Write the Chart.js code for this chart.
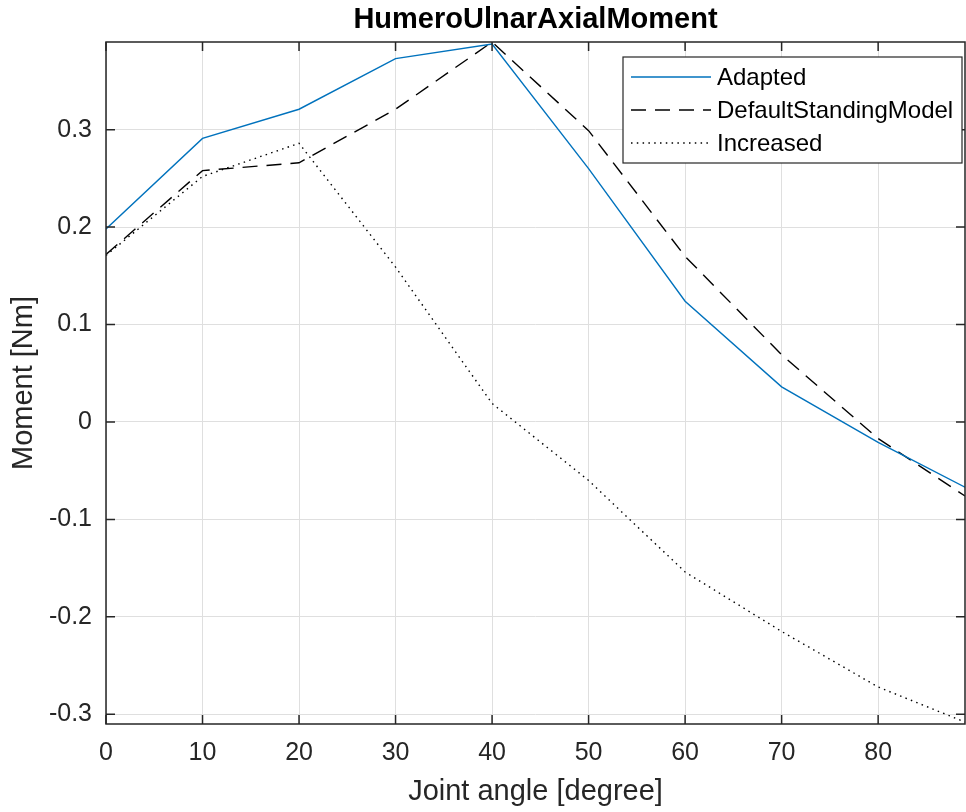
<!DOCTYPE html>
<html>
<head>
<meta charset="utf-8">
<script src="https://cdn.jsdelivr.net/npm/chart.js@4"></script>
<style>
  html, body { margin: 0; padding: 0; background: #fff; }
  #wrap { width: 966px; height: 812px; }
</style>
</head>
<body>
<div id="wrap"><canvas id="momentChart"></canvas></div>
<script>
// joint angles (degree)
var angles = [0, 10, 20, 30, 40, 50, 60, 70, 80, 89];
var adapted = [0.198, 0.291, 0.321, 0.373, 0.388, 0.26, 0.124, 0.036, -0.021, -0.067];
var defaultStanding = [0.172, 0.258, 0.266, 0.321, 0.39, 0.299, 0.17, 0.069, -0.017, -0.076];
var increased = [0.171, 0.252, 0.286, 0.159, 0.019, -0.06, -0.154, -0.215, -0.272, -0.308];

var xTicks = [0, 10, 20, 30, 40, 50, 60, 70, 80];
var yTicks = [-0.3, -0.2, -0.1, 0, 0.1, 0.2, 0.3];

var FONT = '"Liberation Sans", Arial, Helvetica, sans-serif';
var AXIS_COLOR = "#262626";

function toPoints(ys) {
  return angles.map(function (a, i) { return { x: a, y: ys[i] }; });
}

// axes box with inward tick marks, title and legend, MATLAB style
var matlabBox = {
  id: "matlabBox",
  afterDatasetsDraw: function (chart) {
    var ctx = chart.ctx;
    var a = chart.chartArea;
    var xs = chart.scales.x, ys = chart.scales.y;
    var tl = 9;
    ctx.save();
    ctx.strokeStyle = AXIS_COLOR;
    ctx.lineWidth = 1.5;
    ctx.beginPath();
    xTicks.forEach(function (v) {
      var px = xs.getPixelForValue(v);
      ctx.moveTo(px, a.bottom); ctx.lineTo(px, a.bottom - tl);
      ctx.moveTo(px, a.top); ctx.lineTo(px, a.top + tl);
    });
    yTicks.forEach(function (v) {
      var py = ys.getPixelForValue(v);
      ctx.moveTo(a.left, py); ctx.lineTo(a.left + tl, py);
      ctx.moveTo(a.right, py); ctx.lineTo(a.right - tl, py);
    });
    ctx.stroke();
    ctx.strokeRect(a.left, a.top, a.right - a.left, a.bottom - a.top);
    ctx.restore();
  },
  afterDraw: function (chart) {
    var ctx = chart.ctx;
    var a = chart.chartArea;
    ctx.save();
    // title
    ctx.fillStyle = "#000";
    ctx.font = "bold 29px " + FONT;
    ctx.textAlign = "center";
    ctx.textBaseline = "middle";
    ctx.fillText("HumeroUlnarAxialMoment", (a.left + a.right) / 2, 20);

    // legend
    var w = 339, h = 106;
    var left = a.right - 3 - w, top = a.top + 15;
    ctx.fillStyle = "#fff";
    ctx.fillRect(left, top, w, h);
    ctx.strokeStyle = AXIS_COLOR;
    ctx.lineWidth = 1.2;
    ctx.strokeRect(left, top, w, h);
    ctx.font = "24px " + FONT;
    ctx.textAlign = "left";
    chart.data.datasets.forEach(function (ds, i) {
      var y = top + 20 + i * 33;
      ctx.strokeStyle = ds.borderColor;
      ctx.lineWidth = ds.borderWidth;
      ctx.setLineDash(ds.borderDash || []);
      ctx.beginPath();
      ctx.moveTo(left + 8, y);
      ctx.lineTo(left + 88, y);
      ctx.stroke();
      ctx.setLineDash([]);
      ctx.fillStyle = "#000";
      ctx.fillText(ds.label, left + 94, y + 1);
    });
    ctx.restore();
  }
};

var ctx = document.getElementById("momentChart").getContext("2d");
var chart = new Chart(ctx, {
  type: "line",
  data: {
    datasets: [
      {
        label: "Adapted",
        data: toPoints(adapted),
        borderColor: "#0072BD",
        borderWidth: 1.4,
        pointRadius: 0,
        fill: false,
        tension: 0,
      },
      {
        label: "DefaultStandingModel",
        data: toPoints(defaultStanding),
        borderColor: "#000000",
        borderWidth: 1.4,
        borderDash: [15, 9],
        pointRadius: 0,
        fill: false,
        tension: 0,
      },
      {
        label: "Increased",
        data: toPoints(increased),
        borderColor: "#000000",
        borderWidth: 1.4,
        borderDash: [1.5, 4.3],
        pointRadius: 0,
        fill: false,
        tension: 0,
      },
    ],
  },
  options: {
    responsive: true,
    maintainAspectRatio: false,
    animation: false,
    layout: { padding: { top: 42, right: 1, left: 0, bottom: 0 } },
    plugins: {
      legend: { display: false },
      title: { display: false },
      tooltip: { enabled: false },
    },
    scales: {
      x: {
        type: "linear",
        min: 0,
        max: 89,
        afterBuildTicks: function (scale) {
          scale.ticks = xTicks.map(function (v) { return { value: v }; });
        },
        afterFit: function (scale) { scale.height = 88; },
        grid: { color: "#dfdfdf", lineWidth: 1, drawTicks: false },
        border: { display: false },
        ticks: {
          padding: 14,
          color: AXIS_COLOR,
          font: { family: FONT, size: 25 },
          maxRotation: 0,
          callback: function (v) { return String(v); },
        },
        title: {
          display: true,
          text: "Joint angle [degree]",
          color: AXIS_COLOR,
          font: { family: FONT, size: 29 },
          padding: { top: 0, bottom: 3 },
        },
      },
      y: {
        min: -0.31,
        max: 0.39,
        afterBuildTicks: function (scale) {
          scale.ticks = yTicks.map(function (v) { return { value: v }; });
        },
        afterFit: function (scale) { scale.width = 106; },
        grid: { color: "#dfdfdf", lineWidth: 1, drawTicks: false },
        border: { display: false },
        ticks: {
          padding: 14,
          color: AXIS_COLOR,
          font: { family: FONT, size: 25 },
          callback: function (v) { return String(Math.round(v * 10) / 10); },
        },
        title: {
          display: true,
          text: "Moment [Nm]",
          color: AXIS_COLOR,
          font: { family: FONT, size: 29 },
          padding: { top: 7, bottom: 0 },
        },
      },
    },
  },
  plugins: [matlabBox],
});
</script>
</body>
</html>
